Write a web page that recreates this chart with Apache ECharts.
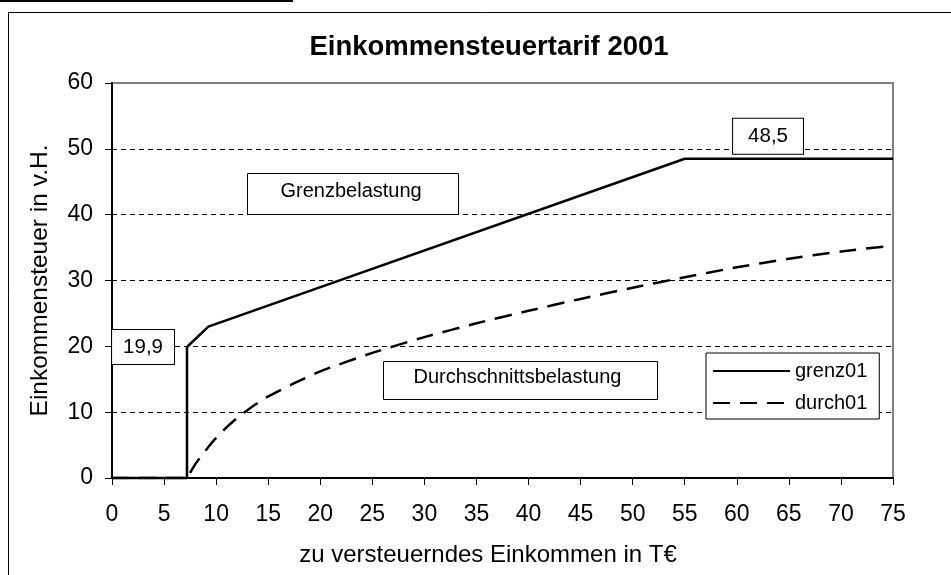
<!DOCTYPE html>
<html>
<head>
<meta charset="UTF-8">
<title>Einkommensteuertarif 2001</title>
<script type="text/javascript" src="https://cdn.jsdelivr.net/npm/echarts@6/dist/echarts.min.js"></script>
<style>
  html, body { margin: 0; padding: 0; background: #fff; }
</style>
</head>
<body>
	<div id="main" style="width:951px;height:575px"></div>
<script type="text/javascript">
// Grenzsteuersatz (grenz01), Einkommen in T€, Satz in v.H.
var grenzX = [0, 7.2, 7.2, 9.25, 55, 63, 75];
var grenzY = [0, 0, 19.9, 23, 48.5, 48.5, 48.5];

// Durchschnittssteuersatz (durch01)
var durchX = [0, 7.2, 7.5, 8, 8.5, 9, 9.5, 10, 11, 12, 13, 14, 15, 17.5, 20, 25, 30, 35, 40, 45, 50, 55, 60, 65, 70, 75];
var durchY = [0, 0, 0.8, 2.1, 3.2, 4.2, 5.2, 6.1, 7.7, 9.1, 10.3, 11.4, 12.4, 14.4, 16.2, 19.0, 21.4, 23.5, 25.4, 27.2, 28.9, 30.5, 32.0, 33.3, 34.4, 35.3];

// Datenbeschriftungen: Index im grenz-Array -> Text
var grenzLabels = { 2: '19,9', 5: '48,5' };

var font = 'Liberation Sans, Arial, sans-serif';

var myChart = echarts.init(document.getElementById('main'));

var grenzData = grenzX.map(function (x, i) {
  var item = { value: [x, grenzY[i]] };
  if (grenzLabels[i]) {
    var left = i === 2;
    item.label = {
      show: true,
      formatter: grenzLabels[i],
      position: left ? 'left' : 'top',
      distance: left ? 13 : 5,
      color: '#000',
      fontSize: 20.5,
      fontFamily: font,
      backgroundColor: '#fff',
      borderColor: '#000',
      borderWidth: 1,
      padding: left ? [7, 11, 6, 11] : [7, 15, 7, 15]
    };
  }
  return item;
});
var durchData = durchX.map(function (x, i) { return [x, durchY[i]]; });

function textBox(x, y, w, h, text, tx) {
  return {
    type: 'group',
    left: x, top: y,
    z: 50,
    children: [
      { type: 'rect', shape: { x: 0, y: 0, width: w, height: h },
        style: { fill: '#fff', stroke: '#000', lineWidth: 1 } },
      { type: 'text', x: tx, y: h / 2 - 3,
        style: { text: text, font: '20px ' + font, fill: '#000', verticalAlign: 'middle' } }
    ]
  };
}

option = {
  animation: false,
  backgroundColor: '#fff',
  title: {
    text: 'Einkommensteuertarif 2001',
    left: 484,
    top: 28,
    textAlign: 'center',
    textStyle: { fontSize: 27.5, fontWeight: 'bold', fontFamily: font, color: '#000' }
  },
  legend: {
    orient: 'vertical',
    left: 706,
    top: 353,
    padding: [8, 12, 6, 6],
    itemWidth: 77,
    itemHeight: 14,
    itemGap: 12,
    backgroundColor: '#fff',
    borderColor: '#000',
    borderWidth: 1,
    borderRadius: 0,
    itemStyle: { opacity: 0 },
    textStyle: { fontSize: 20, lineHeight: 20, fontFamily: font, color: '#000' },
    data: ['grenz01', 'durch01']
  },
  grid: {
    left: 112, top: 83, right: 58, bottom: 97,
    show: true,
    borderColor: '#808080',
    borderWidth: 2,
    outerBoundsMode: 'none'
  },
  xAxis: {
    type: 'value',
    min: 0, max: 75, interval: 5,
    axisLine: { show: true, lineStyle: { color: '#000', width: 2 } },
    axisTick: { show: true, inside: false, length: 7, lineStyle: { color: '#000', width: 1 } },
    axisLabel: { margin: 25, fontSize: 23, fontFamily: font, color: '#000' },
    splitLine: { show: false }
  },
  yAxis: {
    type: 'value',
    min: 0, max: 60, interval: 10,
    name: 'Einkommensteuer in v.H.',
    nameLocation: 'middle',
    nameRotate: 90,
    nameGap: 59,
    nameTextStyle: { fontSize: 24.5, fontFamily: font, color: '#000' },
    axisLine: { show: true, lineStyle: { color: '#000', width: 2 } },
    axisTick: { show: true, inside: false, length: 7, lineStyle: { color: '#000', width: 1 } },
    axisLabel: { margin: 19, fontSize: 23, fontFamily: font, color: '#000' },
    splitLine: {
      show: true,
      showMinLine: false,
      showMaxLine: false,
      lineStyle: { color: '#000', width: 1, type: [5, 4] }
    }
  },
  graphic: [
    { type: 'line', shape: { x1: 0, y1: 1, x2: 293, y2: 1 },
      style: { stroke: '#000', lineWidth: 2 } },
    { type: 'rect', shape: { x: 8.5, y: 12.5, width: 1000, height: 700 },
      style: { fill: null, stroke: '#000', lineWidth: 1 }, z: 100 },
    textBox(247, 173, 211, 41, 'Grenzbelastung', 33),
    textBox(383, 361, 274, 38, 'Durchschnittsbelastung', 30),
    { type: 'text', x: 488, y: 555, style: {
        text: 'zu versteuerndes Einkommen in T€', font: '24px ' + font, fill: '#000',
        align: 'center', verticalAlign: 'middle' } }
  ],
  series: [
    {
      name: 'grenz01',
      type: 'line',
      symbol: 'circle',
      symbolSize: 0,
      showSymbol: true,
      clip: false,
      lineStyle: { color: '#000', width: 2.5, type: 'solid' },
      itemStyle: { color: '#000' },
      data: grenzData,
      z: 3
    },
    {
      name: 'durch01',
      type: 'line',
      symbol: 'none',
      smooth: 0.2,
      lineStyle: { color: '#000', width: 2.5, type: [17, 10] },
      itemStyle: { color: '#000' },
      data: durchData,
      z: 2
    }
  ]
};

myChart.setOption(option);
</script>
</body>
</html>
